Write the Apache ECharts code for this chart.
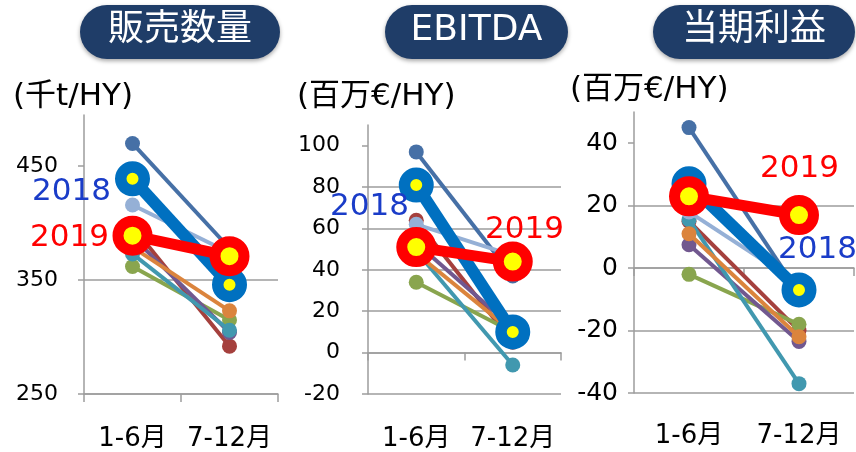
<!DOCTYPE html>
<html lang="ja">
<head>
<meta charset="UTF-8">
<title>販売数量・EBITDA・当期利益</title>
<script src="https://cdn.jsdelivr.net/npm/echarts@6.0.0/dist/echarts.min.js"></script>
<style>
    html, body { margin: 0; padding: 0; background: #fff; }
    #main { width: 856px; height: 452px; }
</style>
</head>
<body>
<div id="main"></div>
<script>
    // 区分
    const categories = ['1-6月', '7-12月'];

    // 系列（描画順：細線7本 → 2018 → 2019）
    const seriesNames = ['2011', '2012', '2013', '2014', '2015', '2016', '2017', '2018', '2019'];
    const seriesColors = ['#4670A6', '#A5403D', '#89A54E', '#71588F', '#4198AF', '#DB843D', '#95B0D6', '#0070C0', '#FF0000'];

    // 販売数量 (千t/HY)
    const volumeH1 = [470, 397, 362, 388, 373, 379, 416, 439, 389];
    const volumeH2 = [378, 292, 315, 304, 306, 323, 374, 346, 371];
    // EBITDA (百万€/HY)
    const ebitdaH1 = [97, 64, 34, 53, 49, 48, 62, 81, 51];
    const ebitdaH2 = [37, 5, 10, 12, -6, 10, 47, 10, 44];
    // 当期利益 (百万€/HY)
    const profitH1 = [45, 15, -2, 7.5, 15.5, 11, 18, 27, 23];
    const profitH2 = [-8, -20, -18, -23.5, -37, -22, -5, -7, 17];

    // 目盛ラベル
    const volumeTicks = [250, 350, 450];
    const ebitdaTicks = [-20, 0, 20, 40, 60, 80, 100];
    const profitTicks = [-40, -20, 0, 20, 40];

    const FONT = "'DejaVu Sans', 'Noto Sans CJK JP', sans-serif";
    const GRID_GRAY = '#9d9d9d';

    const chart = echarts.init(document.getElementById('main'));

    function makeSeries(h1, h2, idx) {
        return seriesNames.map((name, i) => {
            const color = seriesColors[i];
            const is2018 = i === 7, is2019 = i === 8;
            const big = is2018 || is2019;
            return {
                name: name,
                type: 'line',
                xAxisIndex: idx,
                yAxisIndex: idx,
                data: [h1[i], h2[i]],
                z: 2 + i,
                symbol: 'circle',
                symbolSize: is2019 ? 29 : (is2018 ? 23.5 : 15),
                lineStyle: { color: color, width: is2019 ? 11 : (is2018 ? 12 : 4) },
                itemStyle: big
                    ? { color: '#FFFF00', borderColor: color, borderWidth: is2019 ? 11 : 11.5 }
                    : { color: color, borderWidth: 0 },
                emphasis: { disabled: true },
                silent: true
            };
        });
    }

    function yAxis(idx, min, max, ticks, margin, fontSize) {
        return {
            type: 'value',
            gridIndex: idx,
            min: min,
            max: max,
            interval: 20,
            axisLine: { show: true, lineStyle: { color: GRID_GRAY, width: 1.5 } },
            axisTick: { show: true, length: 6, customValues: ticks, lineStyle: { color: GRID_GRAY, width: 1.5 } },
            axisLabel: { customValues: ticks, margin: margin, color: '#000', fontSize: fontSize, fontFamily: FONT },
            splitLine: { show: true, showMaxLine: false, lineStyle: { color: GRID_GRAY, width: 1.5 } }
        };
    }

    function xLabelAxis(idx, margin, showLine) {
        return {
            type: 'category',
            gridIndex: idx,
            position: 'bottom',
            data: categories,
            axisLine: { show: showLine, onZero: false, lineStyle: { color: GRID_GRAY, width: 1.5 } },
            axisTick: { show: showLine, length: 8, lineStyle: { color: GRID_GRAY, width: 1.5 } },
            axisLabel: { margin: margin, color: '#000', fontSize: 26, fontFamily: FONT, interval: 0 },
            splitLine: { show: false }
        };
    }

    function xZeroAxis(idx) {
        return {
            type: 'category',
            gridIndex: idx,
            position: 'bottom',
            data: categories,
            axisLine: { show: true, onZero: true, lineStyle: { color: GRID_GRAY, width: 1.5 } },
            axisTick: { show: true, length: 8, lineStyle: { color: GRID_GRAY, width: 1.5 } },
            axisLabel: { show: false },
            splitLine: { show: false }
        };
    }

    function pill(x, w, text) {
        return {
            type: 'group',
            children: [
                {
                    type: 'rect',
                    shape: { x: x, y: 5, width: w, height: 54, r: 27 },
                    style: { fill: '#1F3D68', shadowBlur: 4, shadowOffsetY: 2, shadowColor: 'rgba(0,0,0,0.35)' }
                },
                {
                    type: 'text',
                    x: x + w / 2,
                    y: 31,
                    style: {
                        text: text, fill: '#fff', font: '36px ' + FONT,
                        align: 'center', verticalAlign: 'middle',
                        textAlign: 'center', textVerticalAlign: 'middle'
                    }
                }
            ]
        };
    }

    function label(x, y, text, color, size) {
        return {
            type: 'text',
            x: x,
            y: y,
            z: 100,
            style: {
                text: text, fill: color, font: size + 'px ' + FONT,
                align: 'left', verticalAlign: 'middle',
                textAlign: 'left', textVerticalAlign: 'middle'
            }
        };
    }

    const volumeY = yAxis(0, 250, 495, volumeTicks, 26, 22);
    volumeY.interval = 100;

    const option = {
        animation: false,
        backgroundColor: '#fff',
        grid: [
            { left: 84, top: 115, width: 194, height: 282 },
            { left: 368, top: 125, width: 193, height: 272 },
            { left: 634, top: 112, width: 220, height: 281 }
        ],
        xAxis: [
            xLabelAxis(0, 32, true),
            xLabelAxis(1, 32, false),
            xLabelAxis(2, 30, false),
            xZeroAxis(1),
            xZeroAxis(2)
        ],
        yAxis: [
            volumeY,
            yAxis(1, -20, 110, ebitdaTicks, 28, 22),
            yAxis(2, -40, 50, profitTicks, 16, 25)
        ],
        series: [
            ...makeSeries(volumeH1, volumeH2, 0),
            ...makeSeries(ebitdaH1, ebitdaH2, 1),
            ...makeSeries(profitH1, profitH2, 2)
        ],
        graphic: [
            pill(80, 200, '販売数量'),
            pill(385, 183, 'EBITDA'),
            pill(653, 202, '当期利益'),
            label(13, 97, '(千t/HY)', '#000', 31),
            label(297, 97, '(百万€/HY)', '#000', 31),
            label(570, 90, '(百万€/HY)', '#000', 31),
            label(32, 192, '2018', '#1A3CC8', 31),
            label(30, 238, '2019', '#FF0000', 31),
            label(330, 207, '2018', '#1A3CC8', 31),
            label(485, 230, '2019', '#FF0000', 31),
            label(760, 169, '2019', '#FF0000', 31),
            label(778, 250, '2018', '#1A3CC8', 31)
        ]
    };

    chart.setOption(option);
</script>
</body>
</html>
